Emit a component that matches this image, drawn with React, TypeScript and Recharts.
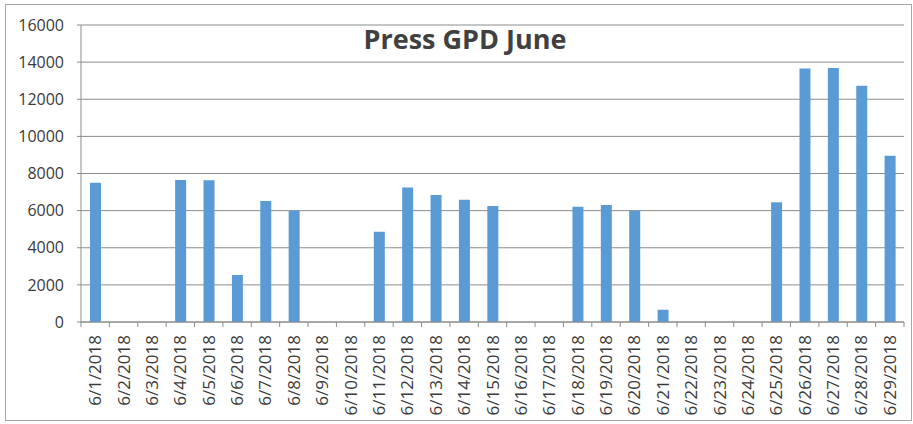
import React from 'react';
import { BarChart, Bar, XAxis, YAxis, CartesianGrid } from 'recharts';

// データ
const dates = [
  '6/1/2018', '6/2/2018', '6/3/2018', '6/4/2018', '6/5/2018', '6/6/2018', '6/7/2018',
  '6/8/2018', '6/9/2018', '6/10/2018', '6/11/2018', '6/12/2018', '6/13/2018', '6/14/2018',
  '6/15/2018', '6/16/2018', '6/17/2018', '6/18/2018', '6/19/2018', '6/20/2018', '6/21/2018',
  '6/22/2018', '6/23/2018', '6/24/2018', '6/25/2018', '6/26/2018', '6/27/2018', '6/28/2018',
  '6/29/2018',
];
const gpd = [
  7500, 0, 0, 7650, 7630, 2530, 6520,
  6000, 0, 0, 4860, 7240, 6840, 6590,
  6250, 0, 0, 6210, 6300, 6000, 660,
  0, 0, 0, 6450, 13650, 13690, 12730,
  8950,
];
const yTicks = [0, 2000, 4000, 6000, 8000, 10000, 12000, 14000, 16000];

const data = dates.map((d, i) => ({ date: d, gpd: gpd[i] }));

const W = 913;
const H = 424;
const M = { top: 25, right: 9, left: 0, bottom: 0 };
const Y_W = 81;
const X_H = 102;
const PLOT_W = W - M.left - M.right - Y_W;
const BAND = PLOT_W / dates.length;

const FONT = '"Open Sans", "Liberation Sans", sans-serif';
const TEXT = '#3a3a3a';
const LINE = '#8c8c8c';

// Excel風の目盛（カテゴリ境界）＋縦書きラベル
const DateTick = (props: any) => {
  const { x, y, payload, index } = props;
  const left = x - BAND / 2;
  const right = x + BAND / 2;
  return (
    <g>
      <line x1={left} y1={y} x2={left} y2={y + 5} stroke={LINE} />
      {index === dates.length - 1 && (
        <line x1={right} y1={y} x2={right} y2={y + 5} stroke={LINE} />
      )}
      <text
        x={0}
        y={0}
        transform={`translate(${x + 6},${y + 13}) rotate(-90)`}
        textAnchor="end"
        fontSize={17}
        fontFamily={FONT}
        fill={TEXT}
      >
        {payload.value}
      </text>
    </g>
  );
};

export default function App() {
  return (
    <div style={{ position: 'absolute', left: 0, top: 0, width: W, height: H, background: '#fff' }}>
      <div
        style={{
          position: 'absolute',
          left: 5,
          top: 4,
          width: 905,
          height: 415,
          border: '1px solid #a8a8a8',
        }}
      />
      <div
        style={{
          position: 'absolute',
          left: 0,
          top: 20,
          width: 930,
          textAlign: 'center',
          fontFamily: FONT,
          fontWeight: 700,
          fontSize: 27,
          color: '#404040',
        }}
      >
        Press GPD June
      </div>
      <div style={{ position: 'absolute', left: 0, top: 0 }}>
        <BarChart width={W} height={H} data={data} margin={M} barCategoryGap={0}>
          <CartesianGrid vertical={false} stroke={LINE} strokeWidth={1} />
          <XAxis
            dataKey="date"
            height={X_H}
            interval={0}
            tickLine={false}
            tickSize={0}
            tickMargin={0}
            axisLine={{ stroke: LINE }}
            tick={<DateTick />}
          />
          <YAxis
            width={Y_W}
            domain={[0, 16000]}
            ticks={yTicks}
            interval={0}
            tickSize={4}
            tickMargin={13}
            tickLine={{ stroke: LINE }}
            axisLine={{ stroke: LINE }}
            tick={{ fontSize: 16, fontFamily: FONT, fill: TEXT }}
          />
          <Bar dataKey="gpd" fill="#5b9bd5" barSize={11} isAnimationActive={false} />
        </BarChart>
      </div>
    </div>
  );
}
